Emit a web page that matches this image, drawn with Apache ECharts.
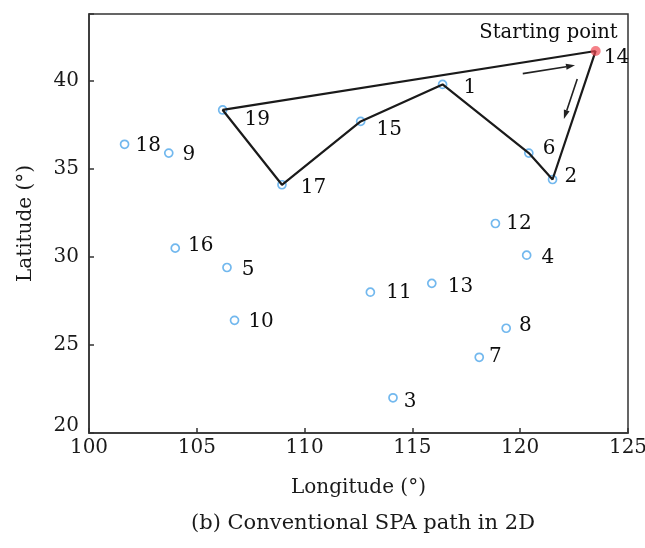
<!DOCTYPE html>
<html>
<head>
<meta charset="utf-8">
<script src="https://cdn.jsdelivr.net/npm/echarts@6/dist/echarts.min.js"></script>
<style>html,body{margin:0;padding:0;background:#fff;}#c{width:645px;height:548px;}</style>
</head>
<body>
<div id="c"></div>
<script>
// ---- data ----
var pointIds = ['1','2','3','4','5','6','7','8','9','10','11','12','13','14','15','16','17','18','19'];
var lons = [116.4, 121.5, 114.1, 120.3, 106.4, 120.4, 118.1, 119.35, 103.7, 106.75, 113.05, 118.85, 115.9, 123.5, 112.6, 104.0, 108.95, 101.65, 106.2];
var lats = [39.8, 34.4, 22.0, 30.1, 29.4, 35.9, 24.3, 25.95, 35.9, 26.4, 28.0, 31.9, 28.5, 41.7, 37.7, 30.5, 34.1, 36.4, 38.35];
var pathOrder = ['14','2','6','1','15','17','19','14'];
var startId = '14';
var xTicks = [100, 105, 110, 115, 120, 125];
var yTicks = [20, 25, 30, 35, 40];

// ---- styles ----
var FONT = 'DejaVu Serif';
var TXT = '#1a1a1a';
var LBL = '#0d0d0d';
// label gap (px from point centre) and vertical shift
var labelTweaks = {
  '19': [21, 10], '17': [18, 3], '15': [15, 8], '1': [20, 3], '6': [13, -4], '2': [11, -3],
  '18': [10, 2], '12': [10, 0], '7': [9, -1], '3': [10, 4], '4': [14, 3], '5': [14, 2],
  '11': [15, 1], '13': [15, 3], '16': [12, -2], '8': [12, -2], '9': [13, 2], '10': [13, 1]
};
var SYM = 8;

function idx(id) { return pointIds.indexOf(id); }

var siteData = pointIds.map(function (id, i) {
  var t = labelTweaks[id] || [12, 1];
  return {
    value: [lons[i], lats[i]], name: id,
    label: { offset: [t[0] - SYM / 2, t[1]] }
  };
}).filter(function (d) { return d.name !== startId; });

var pathData = pathOrder.map(function (id) { var i = idx(id); return [lons[i], lats[i]]; });
var si = idx(startId);

function arrowGroup(api, a, b, t0, t1, off) {
  var p0 = api.coord(a), p1 = api.coord(b);
  var dx = p1[0] - p0[0], dy = p1[1] - p0[1];
  var L = Math.sqrt(dx * dx + dy * dy);
  var ux = dx / L, uy = dy / L;
  var nx = -uy * off, ny = ux * off;
  var s = [p0[0] + dx * t0 + nx, p0[1] + dy * t0 + ny];
  var e = [p0[0] + dx * t1 + nx, p0[1] + dy * t1 + ny];
  var hl = 9, hw = 3;
  var base = [e[0] - ux * hl, e[1] - uy * hl];
  return [
    { type: 'line', shape: { x1: s[0], y1: s[1], x2: base[0], y2: base[1] }, style: { stroke: '#222', lineWidth: 1.6 } },
    { type: 'polygon', shape: { points: [e, [base[0] - uy * hw, base[1] + ux * hw], [base[0] + uy * hw, base[1] - ux * hw]] }, style: { fill: '#222' } }
  ];
}

var labelBase = { fontFamily: FONT, fontSize: 20, color: LBL, textBorderWidth: 0, opacity: 1 };

var chart = echarts.init(document.getElementById('c'));
chart.setOption({
  animation: false,
  backgroundColor: '#fff',
  title: {
    text: '(b) Conventional SPA path in 2D',
    left: 358, top: 508, textAlign: 'center',
    textStyle: { fontFamily: FONT, fontSize: 21, fontWeight: 'normal', color: TXT }
  },
  grid: { left: 89, right: 17, top: 14, bottom: 115, show: true, borderColor: '#333', borderWidth: 1.5, containLabel: false, outerBoundsMode: 'none' },
  xAxis: {
    type: 'value', min: xTicks[0], max: xTicks[xTicks.length - 1], interval: 5,
    name: 'Longitude (°)', nameLocation: 'middle', nameGap: 45,
    nameTextStyle: { fontFamily: FONT, fontSize: 20, color: TXT },
    axisLine: { show: true, lineStyle: { color: '#333', width: 1.5 } },
    axisTick: { show: true, inside: true, length: 5, lineStyle: { color: '#333', width: 1.5 } },
    axisLabel: { fontFamily: FONT, fontSize: 20, color: TXT, margin: 5, hideOverlap: false },
    splitLine: { show: false }
  },
  yAxis: {
    type: 'value', min: yTicks[0], max: 43.8, interval: 5,
    name: 'Latitude (°)', nameLocation: 'middle', nameGap: 53, nameRotate: 90,
    nameTextStyle: { fontFamily: FONT, fontSize: 20, color: TXT },
    axisLine: { show: true, lineStyle: { color: '#333', width: 1.5 } },
    axisTick: { show: true, inside: true, length: 5, lineStyle: { color: '#333', width: 1.5 } },
    axisLabel: {
      fontFamily: FONT, fontSize: 20, color: TXT, margin: 10,
      formatter: function (v) {
        if (yTicks.indexOf(v) < 0) return '';
        return v === yTicks[0] ? '{lo|' + v + '}' : String(v);
      },
      rich: { lo: { fontFamily: FONT, fontSize: 20, color: TXT, padding: [0, 0, 14, 0] } }
    },
    splitLine: { show: false }
  },
  series: [
    {
      type: 'scatter', z: 2, data: siteData,
      symbol: 'circle', symbolSize: SYM,
      itemStyle: { color: '#fff', borderColor: '#4fa6ea', borderWidth: 1.7 },
      label: Object.assign({ show: true, position: 'right', distance: 0, formatter: '{b}' }, labelBase),
      emphasis: { disabled: true }
    },
    {
      type: 'line', z: 3, data: pathData, symbol: 'none',
      lineStyle: { color: '#1a1a1a', width: 2.2 }
    },
    {
      type: 'scatter', z: 4,
      data: [{ value: [lons[si], lats[si]], name: startId }],
      symbol: 'circle', symbolSize: 10,
      itemStyle: { color: 'rgba(240,70,80,0.85)' },
      label: Object.assign({ show: true, position: 'right', distance: 0, offset: [3, 7], formatter: '{b}' }, labelBase)
    },
    {
      type: 'scatter', z: 4,
      data: [{ value: [lons[si], lats[si]], name: 'Starting point' }],
      symbol: 'circle', symbolSize: 1, itemStyle: { color: 'rgba(0,0,0,0)' },
      label: Object.assign({ show: true, position: 'top', align: 'right', distance: 0, offset: [22, -8], formatter: '{b}' }, labelBase, { fontSize: 19.5 })
    },
    {
      type: 'custom', z: 5, clip: false,
      data: [[lons[si], lats[si]]],
      renderItem: function (params, api) {
        var p19 = [lons[idx('19')], lats[idx('19')]];
        var p14 = [lons[si], lats[si]];
        var p2 = [lons[idx('2')], lats[idx('2')]];
        var g1 = arrowGroup(api, p19, p14, 0.80, 0.94, 11);
        var g2 = arrowGroup(api, p14, p2, 0.24, 0.55, 8.5);
        return { type: 'group', children: g1.concat(g2) };
      }
    }
  ]
});
</script>
</body>
</html>
